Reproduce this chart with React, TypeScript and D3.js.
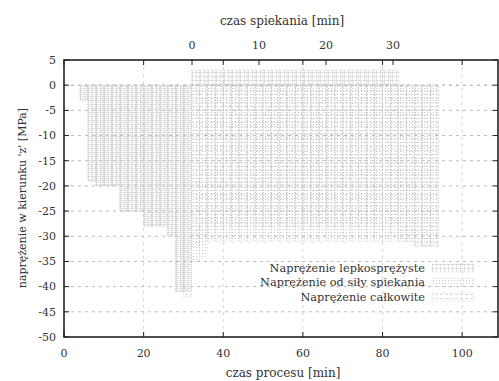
import React from 'react'
import * as d3 from 'd3'

// środki słupków (czas procesu, min), szerokość słupka 2 min
const czas = [5, 7, 9, 11, 13, 15, 17, 19, 21, 23, 25, 27, 29, 31, 33, 35, 37, 39, 41, 43, 45, 47, 49, 51, 53, 55, 57, 59, 61, 63, 65, 67, 69, 71, 73, 75, 77, 79, 81, 83, 85, 87, 89, 91, 93]

const lepkosprezyste = [-3, -19, -20, -20, -20, -25, -25, -25, -28, -28, -28, -30, -41, -41, 3, 3, 3, 3, 3, 3, 3, 3, 3, 3, 3, 3, 3, 3, 3, 3, 3, 3, 3, 3, 3, 3, 3, 3, 3, 3, 0, 0, 0, 0, 0]
const odSilySpiekania = [0, 0, 0, 0, 0, 0, 0, 0, 0, 0, 0, 0, 0, 0, -35, -34, -31, -31, -31, -31, -31, -31, -31, -31, -31, -31, -31, -31, -31, -31, -31, -31, -31, -31, -31, -31, -31, -31, -31, -31, -31, -31, -32, -32, -32]
const calkowite = [-3, -19, -20, -20, -20, -25, -25, -25, -28, -28, -28, -30, -41, -42, -32, -31, -28, -28, -28, -28, -28, -28, -28, -28, -28, -28, -28, -28, -28, -28, -28, -28, -28, -28, -28, -28, -28, -28, -28, -28, -31, -31, -32, -32, -32]

const yTicks = [5, 0, -5, -10, -15, -20, -25, -30, -35, -40, -45, -50]
const xTicks = [0, 20, 40, 60, 80, 100]
const x2Ticks = [0, 10, 20, 30]

const seria = [
  { nazwa: 'Naprężenie lepkosprężyste', dane: lepkosprezyste, wzor: 'p1' },
  { nazwa: 'Naprężenie od siły spiekania', dane: odSilySpiekania, wzor: 'p2' },
  { nazwa: 'Naprężenie całkowite', dane: calkowite, wzor: 'p3' },
]

const FONT = "'DejaVu Serif', 'Liberation Serif', serif"

function Txt(props: any) {
  return <text fill="#333" fontFamily={FONT} style={{ fontFamily: FONT }} {...props} />
}

export default function App() {
  const W = 499, H = 381
  const x = d3.scaleLinear().domain([0, 109]).range([64, 498])
  const x2 = d3.scaleLinear().domain([0, 30]).range([192, 393])
  const y = d3.scaleLinear().domain([-50, 5]).range([337, 60])
  const bw = x(2) - x(0)

  return (
    <svg width={W} height={H} style={{ position: 'absolute', left: 0, top: 0, background: '#fff' }}>
      <defs>
        <pattern id="p1" patternUnits="userSpaceOnUse" width="4" height="4">
          <path d="M0 0.5H4M0.5 0V4" stroke="#cfcfcf" strokeWidth="0.6" />
        </pattern>
        <pattern id="p2" patternUnits="userSpaceOnUse" width="3" height="3">
          <rect x="1" y="1" width="1" height="1" fill="#c8c8c8" />
        </pattern>
        <pattern id="p3" patternUnits="userSpaceOnUse" width="5" height="4">
          <path d="M0 2.5H3" stroke="#d0d0d0" strokeWidth="0.8" />
        </pattern>
      </defs>
      <rect x={0} y={0} width={W} height={H} fill="#fff" />

      {/* siatka */}
      {yTicks.filter(t => t !== 5 && t !== -50).map(t => (
        <line key={'gy' + t} x1={x(0)} x2={x(109)} y1={y(t)} y2={y(t)} stroke={t === 0 ? '#888' : '#aaa'} strokeWidth={0.8} strokeDasharray="3,4" />
      ))}
      {xTicks.filter(t => t !== 0).map(t => (
        <line key={'gx' + t} x1={x(t)} x2={x(t)} y1={y(5)} y2={y(-50)} stroke="#c4c4c4" strokeWidth={0.7} strokeDasharray="3,4" />
      ))}

      {/* słupki */}
      {seria.map(s => (
        <g key={s.wzor}>
          {czas.map((t, i) => {
            const v = s.dane[i]
            if (v === 0) return null
            return (
              <rect key={i} x={x(t) - bw / 2} width={bw} y={y(Math.max(0, v))} height={Math.abs(y(v) - y(0))}
                fill={`url(#${s.wzor})`} stroke="#c8c8c8" strokeWidth={0.7} strokeDasharray="1,1.5" />
            )
          })}
        </g>
      ))}

      {/* ramka */}
      <rect x={x(0)} y={y(5)} width={x(109) - x(0)} height={y(-50) - y(5)} fill="none" stroke="#222" strokeWidth={1.6} />

      {/* osie Y */}
      {yTicks.map(t => (
        <g key={'y' + t}>
          <line x1={x(0)} x2={x(0) + 5} y1={y(t)} y2={y(t)} stroke="#222" />
          <line x1={x(109)} x2={x(109) - 5} y1={y(t)} y2={y(t)} stroke="#222" />
          <Txt x={56} y={y(t)} dy="0.35em" textAnchor="end" fontSize={11}>{t}</Txt>
        </g>
      ))}

      {/* oś X dolna */}
      {xTicks.map(t => (
        <g key={'x' + t}>
          <line x1={x(t)} x2={x(t)} y1={y(-50)} y2={y(-50) - 5} stroke="#222" />
          <line x1={x(t)} x2={x(t)} y1={y(5)} y2={y(5) + 5} stroke="#222" />
          <Txt x={x(t)} y={353} dy="0.35em" textAnchor="middle" fontSize={11}>{t}</Txt>
        </g>
      ))}

      {/* oś X górna */}
      {x2Ticks.map(t => (
        <g key={'x2' + t}>
          <line x1={x2(t)} x2={x2(t)} y1={y(5)} y2={y(5) + 5} stroke="#222" />
          <Txt x={x2(t)} y={45} dy="0.35em" textAnchor="middle" fontSize={11}>{t}</Txt>
        </g>
      ))}

      <Txt x={282} y={21} dy="0.35em" textAnchor="middle" fontSize={12}>czas spiekania [min]</Txt>
      <Txt x={283} y={373} dy="0.35em" textAnchor="middle" fontSize={12}>czas procesu [min]</Txt>
      <Txt transform="translate(22,198) rotate(-90)" dy="0.35em" textAnchor="middle" fontSize={11}>naprężenie w kierunku 'z' [MPa]</Txt>

      {/* legenda */}
      {seria.map((s, i) => (
        <g key={'l' + i}>
          <Txt x={425} y={268 + i * 14.5} dy="0.35em" textAnchor="end" fontSize={11.3}>{s.nazwa}</Txt>
          <rect x={432} y={264 + i * 14.5} width={42} height={8} fill={`url(#${s.wzor})`} stroke="#cccccc" strokeWidth={0.7} strokeDasharray="1,1.5" />
        </g>
      ))}
    </svg>
  )
}
